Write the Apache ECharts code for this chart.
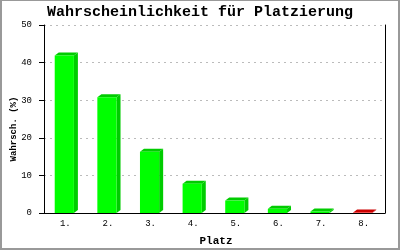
<!DOCTYPE html>
<html>
<head>
<meta charset="utf-8">
<script src="https://cdn.jsdelivr.net/npm/echarts@6/dist/echarts.min.js"></script>
<style>
html,body{margin:0;padding:0;background:#fff;}
#c{width:400px;height:250px;box-sizing:border-box;border:1px solid #999;border-left-width:2px;border-right-width:2px;border-bottom-width:2px;}
</style>
</head>
<body>
<div id="c"></div>
<script>
const categories = ['1.', '2.', '3.', '4.', '5.', '6.', '7.', '8.'];
const values = [41.9, 30.8, 16.3, 7.8, 3.3, 1.1, 0.4, 0.1];
const frontColors = ['#00ff00','#00ff00','#00ff00','#00ff00','#00ff00','#00ff00','#00ff00','#ff0000'];
const sideColors = ['#00cc00','#00cc00','#00cc00','#00cc00','#00cc00','#00cc00','#00cc00','#cc0000'];
const yTicks = [0, 10, 20, 30, 40, 50];
const titleText = 'Wahrscheinlichkeit für Platzierung';
const xName = 'Platz';
const yName = 'Wahrsch. (%)';

const chart = echarts.init(document.getElementById('c'), null, {renderer: 'canvas'});
const FONT = '"Liberation Mono", "DejaVu Sans Mono", monospace';

function renderItem(params, api) {
  const idx = api.value(0);
  const val = api.value(1);
  const top = api.coord([idx, val]);
  const base = api.coord([idx, 0]);
  const band = api.size([1, 0])[0];
  const w = band * 0.45;
  const x0 = top[0] - w / 2 - 1;
  const x1 = x0 + w;
  const yT = top[1];
  const yB = base[1];
  const dx = 4, dy = 3;
  return {
    type: 'group',
    children: [
      {type: 'polygon', shape: {points: [[x1, yT], [x1 + dx, yT - dy], [x1 + dx, yB - dy], [x1, yB]]}, style: {fill: sideColors[idx]}},
      {type: 'polygon', shape: {points: [[x0, yT], [x0 + dx, yT - dy], [x1 + dx, yT - dy], [x1, yT]]}, style: {fill: sideColors[idx]}},
      {type: 'rect', shape: {x: x0, y: yT, width: w, height: yB - yT}, style: {fill: frontColors[idx]}}
    ]
  };
}

chart.setOption({
  animation: false,
  backgroundColor: '#fff',
  grid: {left: 42, right: 13, top: 24, bottom: 35, containLabel: false},
  xAxis: {
    type: 'category',
    data: categories,
    boundaryGap: true,
    axisLine: {show: true, lineStyle: {color: '#000', width: 1}},
    axisTick: {show: false},
    axisLabel: {fontFamily: FONT, fontSize: 9, color: '#000', margin: 6}
  },
  yAxis: [{
    type: 'value',
    min: 0, max: 50, interval: 10,
    axisLine: {show: true, lineStyle: {color: '#000', width: 1}},
    axisTick: {show: true, length: 5, inside: false, lineStyle: {color: '#000'}},
    axisLabel: {fontFamily: FONT, fontSize: 9, color: '#000', margin: 12,
      formatter: v => yTicks.includes(v) ? String(v) : ''},
    splitLine: {show: true, lineStyle: {color: '#bbbbbb', type: [2, 4], width: 1}}
  }, {
    type: 'value',
    position: 'right',
    min: 0, max: 50, interval: 10,
    axisLine: {show: true, lineStyle: {color: '#000', width: 1}},
    axisTick: {show: false},
    axisLabel: {show: false},
    splitLine: {show: false}
  }],
  graphic: [
    {type: 'text', left: 'center', top: 4, style: {text: titleText, font: 'bold 15px ' + FONT, fill: '#000'}},
    {type: 'text', x: 214, y: 240, style: {text: xName, font: 'bold 11px ' + FONT, fill: '#000', align: 'center', verticalAlign: 'middle'}},
    {type: 'text', x: 12, y: 128, rotation: Math.PI / 2, style: {text: yName, font: 'bold 9px ' + FONT, fill: '#000', align: 'center', verticalAlign: 'middle'}}
  ],
  series: [{
    type: 'custom',
    renderItem: renderItem,
    data: values.map((v, i) => [i, v]),
    clip: false
  }]
});
</script>
</body>
</html>
